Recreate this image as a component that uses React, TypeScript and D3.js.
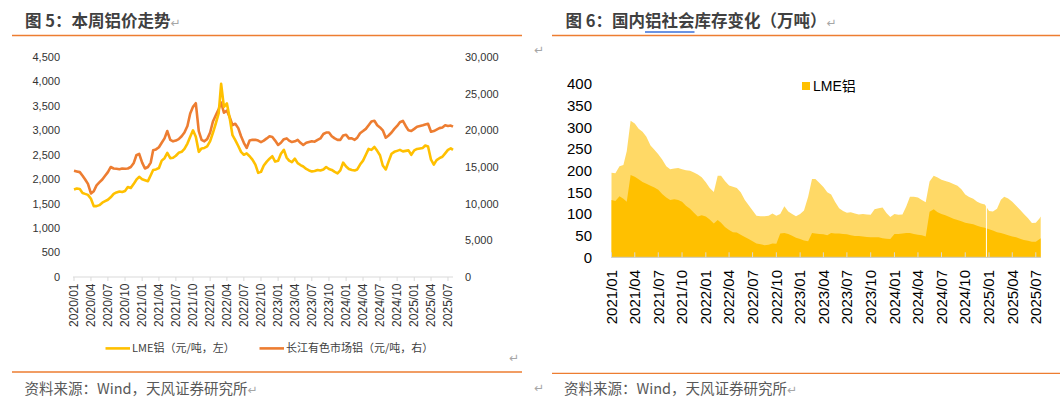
import React, { useEffect, useRef } from 'react';
import * as d3 from 'd3';

// 图5：本周铝价走势，半月取样（每月1日、16日），最后一个点为 2025/07/28
const priceStart = new Date(2020, 0, 1);
const priceEnd = new Date(2025, 6, 28);
const lmePrice = [
  1790, 1810, 1800, 1720, 1700, 1680, 1600, 1450, 1450, 1470, 1520, 1550,
  1580, 1630, 1700, 1730, 1750, 1740, 1760, 1840, 1820, 1900, 1990, 2050,
  2000, 1980, 1960, 2080, 2190, 2200, 2230, 2380, 2430, 2540, 2430, 2440,
  2480, 2540, 2560, 2620, 2730, 2870, 3000, 2870, 2560, 2630, 2640, 2670,
  2780, 2950, 3150, 3350, 3950, 3480, 3550, 3250, 2900, 2800, 2680, 2560,
  2500, 2530, 2470, 2400, 2300, 2130, 2150, 2280, 2360, 2420, 2470, 2360,
  2380, 2520, 2600, 2440, 2380, 2350, 2420, 2330, 2290, 2260, 2210, 2180,
  2160, 2170, 2190, 2180, 2200, 2250, 2210, 2190, 2150, 2120, 2180, 2340,
  2260, 2210, 2190, 2180, 2200, 2300, 2380, 2500, 2620, 2600, 2660, 2580,
  2490, 2280, 2200, 2360, 2520, 2560, 2580, 2600, 2570, 2580, 2590, 2500,
  2590, 2620, 2630, 2640, 2690, 2670, 2400, 2300, 2390, 2430, 2460, 2530,
  2600, 2630, 2600,
];
const cjPrice = [
  14500, 14400, 14300, 13800, 13300, 12700, 11400, 11700, 12500, 12900, 13300, 13800,
  14300, 15000, 14800, 14750, 14700, 14800, 14750, 14800, 15000, 15500, 16600, 16800,
  15600, 14800, 15000, 15600, 17300, 17400, 17700, 18300, 18900, 19900, 18700, 18500,
  18600, 18800, 19200, 19700, 20600, 22300, 23200, 23700, 19900, 18700, 18500, 18800,
  19700, 21200, 22100, 22900, 23800, 22400, 22700, 21800, 20700, 20900, 20300, 19200,
  18300, 17600, 18600, 18700, 18700, 18600, 18400, 18600, 18900, 19200, 19100, 18600,
  18000, 18300, 18800, 18900, 18600, 18400, 18500, 18700, 18300, 18000, 18300, 18400,
  18500, 18450, 18700, 18900, 19500, 19700, 19700, 19200, 18900, 18700, 18700, 19300,
  19400, 18900, 18900, 18700, 19000, 19600, 19900, 20200, 20700, 21200, 21300, 20700,
  20400, 20000, 19000, 19300, 19700, 20200, 20600, 21100, 21300, 20600, 20000, 19900,
  20200, 20500, 20600, 20700, 20800, 20900, 19800, 19900, 20100, 20300, 20400, 20700,
  20600, 20650, 20500,
];

// 图6：国内铝社会库存（万吨），半月取样，最后一个点为 2025/07/20
const stockStart = new Date(2021, 0, 1);
const stockEnd = new Date(2025, 6, 20);
const stockTotal = [
  195, 194, 210, 213, 245, 315, 309, 297, 290, 278, 258, 248,
  238, 226, 210, 203, 205, 206, 203, 201, 200, 196, 191, 185,
  173, 160, 151, 188, 188, 176, 166, 163, 160, 150, 132, 120,
  108, 96, 95, 95, 96, 101, 96, 100, 118, 106, 100, 95,
  100, 108, 140, 181, 181, 172, 162, 150, 145, 128, 113, 107,
  103, 104, 101, 99, 100, 99, 98, 111, 113, 115, 102, 93,
  100, 98, 99, 118, 140, 140, 138, 132, 127, 175, 188, 184,
  179, 176, 173, 169, 165, 157, 145, 139, 135, 128, 124, 122,
  107, 106, 112, 133, 140, 136, 128, 119, 110, 100, 90, 79,
  80, 90, 94,
];
const stockLme = [
  132, 130, 141, 135, 128, 190, 186, 180, 174, 170, 165, 161,
  156, 146, 138, 132, 134, 132, 128, 119, 112, 103, 94, 97,
  94, 87, 78, 86, 80, 70, 63, 58, 57, 52, 47, 42,
  37, 32, 30, 28, 29, 32, 31, 55, 56, 54, 50, 45,
  42, 39, 37, 56, 55, 54, 53, 51, 56, 55, 55, 54,
  53, 51, 49, 49, 48, 47, 46, 46, 46, 44, 43, 42,
  54, 54, 55, 56, 56, 54, 52, 51, 48, 105, 111, 104,
  100, 97, 93, 89, 86, 83, 80, 78, 76, 73, 70, 68,
  65, 62, 58, 56, 54, 51, 48, 46, 43, 40, 38, 36,
  36, 42, 44,
];
const stockGaps = [new Date(2024, 11, 22)];

const priceLeftTicks = d3.range(0, 4501, 500);
const priceRightTicks = d3.range(0, 30001, 5000);
const stockTicks = d3.range(0, 401, 50);

const ORANGE = '#ED7D31';
const GOLD = '#FFC000';
const LIGHT_GOLD = '#FFD966';
const CJK = '"Noto Sans CJK SC", "Liberation Sans", sans-serif';
const LATIN = '"Liberation Sans", Arial, "Noto Sans CJK SC", sans-serif';
const MARK = '\u21b5';

// half-month dates: 1st and 16th of each month, last point = end
const halfMonthDates = (start: Date, n: number, end: Date) =>
  d3.range(n).map(i =>
    i === n - 1 ? end : new Date(start.getFullYear(), start.getMonth() + Math.floor(i / 2), i % 2 ? 16 : 1)
  );

const App: React.FC = () => {
  const svgRef = useRef<SVGSVGElement>(null);

  useEffect(() => {
    if (!svgRef.current) return;
    const svg = d3.select(svgRef.current);
    svg.selectAll('*').remove();

    const addText = (x: number, y: number, text: string, size: number, fill: string, opts: any = {}) => {
      const t = svg.append('text')
        .attr('x', x).attr('y', y)
        .attr('font-family', opts.family || CJK)
        .attr('font-size', size)
        .attr('font-weight', opts.weight || 'normal')
        .attr('fill', fill)
        .text(text);
      if (opts.mark) {
        t.append('tspan').attr('font-size', 12).attr('font-weight', 'normal')
          .attr('font-family', '"DejaVu Sans", sans-serif').attr('fill', '#a6a6a6').text(MARK);
      }
      return t;
    };
    const rule = (x1: number, x2: number, y: number) =>
      svg.append('line').attr('x1', x1).attr('x2', x2).attr('y1', y).attr('y2', y)
        .attr('stroke', ORANGE).attr('stroke-width', 1.3);
    const mark = (x: number, y: number) =>
      svg.append('text').attr('x', x).attr('y', y).attr('font-size', 12)
        .attr('font-family', '"DejaVu Sans", sans-serif').attr('fill', '#a6a6a6').text(MARK);

    // ---------- frames ----------
    addText(25, 27, '图 5：本周铝价走势', 16.5, '#404040', { weight: 'bold', mark: true });
    rule(12, 522, 35.5);
    rule(12, 522, 372);
    addText(24.5, 394, '资料来源：Wind，天风证券研究所', 14.5, '#595959', { mark: true });
    mark(509, 362);

    const t6 = addText(565.5, 27, '图 6：国内铝社会库存变化（万吨）', 16.5, '#404040', { weight: 'bold', mark: true });
    const tNode = t6.node() as SVGTextElement;
    const ux0 = 565.5 + tNode.getSubStringLength(0, 6);
    const ux1 = ux0 + tNode.getSubStringLength(6, 3);
    svg.append('line').attr('x1', ux0).attr('x2', ux1).attr('y1', 32).attr('y2', 32)
      .attr('stroke', '#3a6fd8').attr('stroke-width', 1.6);
    rule(552, 1060, 35.5);
    rule(552, 1060, 373.4);
    mark(534, 54);
    mark(534, 392);
    addText(564, 394, '资料来源：Wind，天风证券研究所', 14.5, '#595959', { mark: true });

    // ---------- 图5 ----------
    const pDates = halfMonthDates(priceStart, lmePrice.length, priceEnd);
    const px = d3.scaleTime().domain([priceStart, priceEnd]).range([74, 453]);
    const pyL = d3.scaleLinear().domain([0, 4500]).range([277, 57]);
    const pyR = d3.scaleLinear().domain([0, 30000]).range([277, 57]);

    const g5 = svg.append('g');
    g5.selectAll('text.yl').data(priceLeftTicks).join('text')
      .attr('x', 60).attr('y', d => pyL(d)).attr('dy', '0.35em')
      .attr('text-anchor', 'end').attr('font-family', LATIN).attr('font-size', 11)
      .attr('fill', '#333').text(d => d3.format(',')(d));
    g5.selectAll('text.yr').data(priceRightTicks).join('text')
      .attr('x', 465).attr('y', d => pyR(d)).attr('dy', '0.35em')
      .attr('font-family', LATIN).attr('font-size', 11)
      .attr('fill', '#333').text(d => d3.format(',')(d));

    const pTicks = px.ticks(d3.timeMonth.every(3) as any);
    g5.append('line').attr('x1', 73).attr('x2', 453).attr('y1', 277).attr('y2', 277)
      .attr('stroke', '#d9d9d9');
    g5.selectAll('line.tk').data(pTicks).join('line')
      .attr('x1', d => px(d)).attr('x2', d => px(d)).attr('y1', 277).attr('y2', 281)
      .attr('stroke', '#d9d9d9');
    g5.selectAll('text.xl').data(pTicks).join('text')
      .attr('transform', d => `translate(${px(d)},283.5) rotate(-90)`)
      .attr('text-anchor', 'end').attr('dy', '0.35em')
      .attr('font-family', LATIN).attr('font-size', 12).attr('fill', '#333')
      .text(d => d3.timeFormat('%Y/%m')(d));

    const cjLine = d3.line<number>().x((_, i) => px(pDates[i])).y(d => pyR(d));
    const lmeLine = d3.line<number>().x((_, i) => px(pDates[i])).y(d => pyL(d));
    g5.append('path').attr('d', cjLine(cjPrice)).attr('fill', 'none')
      .attr('stroke', ORANGE).attr('stroke-width', 2.6).attr('stroke-linejoin', 'round');
    g5.append('path').attr('d', lmeLine(lmePrice)).attr('fill', 'none')
      .attr('stroke', GOLD).attr('stroke-width', 2.6).attr('stroke-linejoin', 'round');

    // legend
    const legend = [
      { label: 'LME铝（元/吨，左）', color: GOLD, x: 105.5 },
      { label: '长江有色市场铝（元/吨，右）', color: ORANGE, x: 259.5 },
    ];
    legend.forEach(l => {
      g5.append('line').attr('x1', l.x).attr('x2', l.x + 24.5).attr('y1', 348.4).attr('y2', 348.4)
        .attr('stroke', l.color).attr('stroke-width', 2.6);
      g5.append('text').attr('x', l.x + 26.5).attr('y', 348.4).attr('dy', '0.35em')
        .attr('font-family', CJK).attr('font-size', 11).attr('fill', '#404040').text(l.label);
    });

    // ---------- 图6 ----------
    const sDates = halfMonthDates(stockStart, stockTotal.length, stockEnd);
    const sx = d3.scaleTime().domain([stockStart, stockEnd]).range([611.5, 1040.7]);
    const sy = d3.scaleLinear().domain([0, 400]).range([257.3, 84]);
    const g6 = svg.append('g');

    const areaOf = (vals: number[]) => d3.area<number>()
      .x((_, i) => sx(sDates[i])).y0(sy(0)).y1(d => sy(d))(vals);
    g6.append('path').attr('d', areaOf(stockTotal)).attr('fill', LIGHT_GOLD);
    g6.append('path').attr('d', areaOf(stockLme)).attr('fill', GOLD);
    g6.selectAll('line.gap').data(stockGaps).join('line')
      .attr('x1', d => sx(d)).attr('x2', d => sx(d)).attr('y1', sy(0)).attr('y2', sy(400))
      .attr('stroke', '#fff').attr('stroke-width', 1);

    g6.append('line').attr('x1', 611).attr('x2', 1041).attr('y1', sy(0)).attr('y2', sy(0))
      .attr('stroke', '#c8c8c8');
    const sTicks = sx.ticks(d3.timeMonth.every(3) as any);
    g6.selectAll('line.tk').data(sTicks).join('line')
      .attr('x1', d => sx(d)).attr('x2', d => sx(d)).attr('y1', sy(0)).attr('y2', sy(0) - 5)
      .attr('stroke', '#d9d9d9');
    g6.selectAll('text.xl').data(sTicks).join('text')
      .attr('transform', d => `translate(${sx(d)},270) rotate(-90)`)
      .attr('text-anchor', 'end').attr('dy', '0.35em')
      .attr('font-family', LATIN).attr('font-size', 15).attr('fill', '#000')
      .text(d => d3.timeFormat('%Y/%m')(d));
    g6.selectAll('text.yl').data(stockTicks).join('text')
      .attr('x', 592).attr('y', d => sy(d)).attr('dy', '0.35em')
      .attr('text-anchor', 'end').attr('font-family', LATIN).attr('font-size', 15)
      .attr('fill', '#000').text(d => d);

    g6.append('rect').attr('x', 802).attr('y', 82).attr('width', 8).attr('height', 8).attr('fill', GOLD);
    g6.append('text').attr('x', 813).attr('y', 86).attr('dy', '0.35em')
      .attr('font-family', LATIN).attr('font-size', 14).attr('fill', '#000').text('LME铝');
  }, []);

  return (
    <svg ref={svgRef} width={1060} height={398}
      style={{ position: 'absolute', left: 0, top: 0, background: '#fff' }} />
  );
};

export default App;
